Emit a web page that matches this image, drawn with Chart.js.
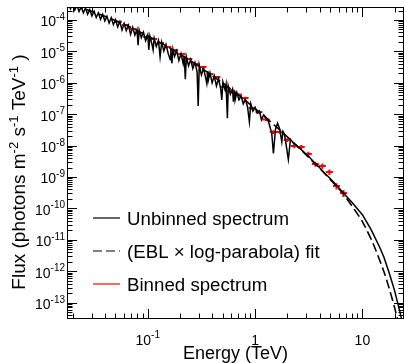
<!DOCTYPE html>
<html>
<head>
<meta charset="utf-8">
<script src="https://cdn.jsdelivr.net/npm/chart.js@4.4.0/dist/chart.umd.min.js"></script>
<style>
html, body { margin: 0; padding: 0; background: #fff; }
#wrap { width: 404px; height: 363px; }
</style>
</head>
<body>
<div id="wrap"><canvas id="spectrum" width="404" height="363"></canvas></div>
<script>
"use strict";

// binned spectrum: bin edges (TeV), flux per bin, relative error
const binEdges = [0.0495, 0.0575, 0.0670, 0.0778, 0.0906, 0.105, 0.122, 0.142, 0.166, 0.192,
    0.224, 0.260, 0.303, 0.352, 0.409, 0.475, 0.553, 0.643, 0.748, 0.869,
    1.01, 1.17, 1.37, 1.59, 1.85, 2.15, 2.50, 2.90, 3.38, 3.93,
    4.57, 5.31, 6.18, 7.18];
const binFlux = [8.83e-5, 6.93e-5, 5.16e-5, 3.85e-5, 2.88e-5, 2.48e-5, 1.85e-5, 1.38e-5, 1.11e-5, 8.26e-6,
    5.73e-6, 3.97e-6, 3.18e-6, 1.91e-6, 1.53e-6, 7.35e-7, 5.69e-7, 4.24e-7, 3.28e-7, 1.57e-7,
    1.17e-7, 6.78e-8, 2.71e-8, 2.71e-8, 1.51e-8, 9.70e-9, 9.02e-9, 5.40e-9, 2.59e-9, 2.24e-9,
    1.44e-9, 5.16e-10, 3.09e-10];
const binErr = [0.05, 0.05, 0.05, 0.05, 0.05, 0.06, 0.06, 0.06, 0.06, 0.06,
    0.07, 0.07, 0.07, 0.08, 0.08, 0.08, 0.09, 0.09, 0.10, 0.10,
    0.11, 0.12, 0.13, 0.13, 0.14, 0.15, 0.16, 0.17, 0.18, 0.19,
    0.20, 0.22, 0.25];

// unbinned spectrum, log10(E / TeV) and log10(flux)
const unbinnedLogE = [-1.78, -1.76, -1.74, -1.72, -1.70, -1.68, -1.66, -1.64, -1.62, -1.60,
    -1.58, -1.56, -1.54, -1.52, -1.50, -1.48, -1.46, -1.44, -1.42, -1.40,
    -1.38, -1.36, -1.34, -1.32, -1.30, -1.28, -1.26, -1.24, -1.22, -1.20,
    -1.18, -1.16, -1.14, -1.12, -1.10, -1.09, -1.08, -1.06, -1.04, -1.02,
    -1.00, -0.99, -0.98, -0.96, -0.95, -0.94, -0.92, -0.90, -0.885, -0.87,
    -0.85, -0.83, -0.81, -0.79, -0.785, -0.775, -0.765, -0.75, -0.73, -0.71,
    -0.69, -0.67, -0.66, -0.65, -0.64, -0.62, -0.60, -0.58, -0.56, -0.54,
    -0.53, -0.52, -0.50, -0.48, -0.46, -0.45, -0.44, -0.435, -0.42, -0.40,
    -0.38, -0.36, -0.34, -0.32, -0.31, -0.30, -0.28, -0.27, -0.258, -0.25,
    -0.23, -0.21, -0.202, -0.19, -0.186, -0.17, -0.15, -0.13, -0.11, -0.09,
    -0.07, -0.053, -0.04, -0.02, 0.00, 0.02, 0.04, 0.06, 0.08, 0.10,
    0.12, 0.13, 0.155, 0.171, 0.19, 0.21, 0.23, 0.249, 0.26, 0.275,
    0.31, 0.33, 0.36, 0.40, 0.45, 0.50, 0.55, 0.60, 0.65, 0.70,
    0.75, 0.80, 0.90, 1.00, 1.08, 1.16, 1.20, 1.25, 1.30, 1.35,
    1.40];
const unbinnedLogF = [-3.41, -3.60, -3.45, -3.64, -3.49, -3.68, -3.53, -3.73, -3.58, -3.77,
    -3.62, -3.82, -3.67, -3.87, -3.72, -3.92, -3.77, -3.98, -3.82, -4.03,
    -3.88, -4.10, -3.93, -4.15, -3.99, -4.22, -4.05, -4.32, -4.11, -4.34,
    -4.17, -4.46, -4.23, -4.48, -4.30, -4.80, -4.32, -4.56, -4.39, -4.66,
    -4.47, -4.95, -4.51, -4.78, -4.95, -4.58, -4.84, -4.65, -5.17, -4.71,
    -4.99, -4.78, -5.06, -5.27, -4.91, -5.38, -4.93, -5.16, -4.98, -5.29,
    -5.07, -5.39, -5.14, -5.89, -5.17, -5.46, -5.26, -5.55, -5.35, -5.65,
    -6.74, -5.44, -5.75, -5.54, -5.85, -6.02, -5.63, -5.91, -5.68, -6.00,
    -5.78, -6.10, -5.87, -6.20, -6.55, -5.97, -6.22, -6.05, -7.13, -6.10,
    -6.37, -6.20, -6.60, -6.25, -6.55, -6.31, -6.54, -6.42, -6.67, -6.53,
    -6.77, -7.24, -6.67, -6.90, -6.78, -6.97, -6.90, -7.18, -7.02, -7.10,
    -7.20, -7.30, -7.60, -8.25, -7.48, -7.29, -7.48, -7.88, -7.55, -7.65,
    -8.44, -7.80, -7.93, -8.04, -8.19, -8.35, -8.53, -8.70, -8.88, -9.05,
    -9.23, -9.42, -9.80, -10.20, -10.67, -11.23, -11.55, -12.06, -12.62, -13.30,
    -14.05];

// (EBL x log-parabola) fit, log10(E / TeV) and log10(flux)
const fitLogE = [-1.8, -1.7, -1.6, -1.5, -1.4, -1.3, -1.2, -1.1, -1.0, -0.9,
    -0.8, -0.7, -0.6, -0.5, -0.4, -0.3, -0.2, -0.1, 0.0, 0.1,
    0.2, 0.3, 0.4, 0.5, 0.6, 0.7, 0.8, 0.9, 1.0, 1.1,
    1.2, 1.25, 1.3, 1.35, 1.4];
const fitLogF = [-3.42, -3.52, -3.63, -3.75, -3.88, -4.02, -4.17, -4.33, -4.51, -4.69,
    -4.88, -5.09, -5.30, -5.53, -5.77, -6.01, -6.27, -6.54, -6.82, -7.11,
    -7.41, -7.72, -8.04, -8.38, -8.72, -9.08, -9.45, -9.91, -10.42, -11.12,
    -12.01, -12.55, -13.16, -13.85, -14.6];

// axes
const xRange = [0.01807, 23.9];
const yRange = [3.22e-14, 2.41e-4];
const xTickValues = [0.1, 1, 10];
const xTickBase = ["10", "1", "10"];
const xTickExp = ["-1", "", ""];
const yTickExp = [-4, -5, -6, -7, -8, -9, -10, -11, -12, -13];

const seriesLabels = ["Unbinned spectrum", "(EBL \u00d7 log-parabola) fit", "Binned spectrum"];

const FONT = '"Liberation Sans", Arial, Helvetica, sans-serif';

function logPoints(le, lf) {
    return le.map(function(v, i) { return { x: Math.pow(10, v), y: Math.pow(10, lf[i]) }; });
}

function binPoints() {
    let pts = [];
    binFlux.forEach(function(f, i) {
        let lo = binEdges[i], hi = binEdges[i + 1];
        let c = Math.sqrt(lo * hi);
        pts.push({ x: lo, y: f }, { x: hi, y: f }, { x: hi, y: null });
        pts.push({ x: c, y: f * (1 - binErr[i]) }, { x: c, y: f * (1 + binErr[i]) }, { x: c, y: null });
    });
    return pts;
}

// ticks inside the frame on all four sides, ROOT style
const frameTicks = {
    id: "frameTicks",
    afterDraw(chart) {
        const ctx = chart.ctx;
        const a = chart.chartArea;
        const xs = chart.scales.x, ys = chart.scales.y;
        ctx.save();
        ctx.strokeStyle = "#000";
        ctx.lineWidth = 1;
        ctx.strokeRect(a.left - 0.5, a.top - 0.5, a.right - a.left + 1, a.bottom - a.top + 1);
        ctx.beginPath();
        for (let d = -2; d <= 1; d++) {
            for (let m = 1; m <= 9; m++) {
                let v = m * Math.pow(10, d);
                if (v < xRange[0] || v > xRange[1]) continue;
                let px = Math.round(xs.getPixelForValue(v)) + 0.5;
                let len = m === 1 ? 9 : 4.5;
                ctx.moveTo(px, a.bottom); ctx.lineTo(px, a.bottom - len);
                ctx.moveTo(px, a.top); ctx.lineTo(px, a.top + len);
            }
        }
        for (let d = -14; d <= -3; d++) {
            for (let m = 1; m <= 9; m++) {
                let v = m * Math.pow(10, d);
                if (v < yRange[0] || v > yRange[1]) continue;
                let py = Math.round(ys.getPixelForValue(v)) + 0.5;
                let len = m === 1 ? 9 : 4.5;
                ctx.moveTo(a.left, py); ctx.lineTo(a.left + len, py);
                ctx.moveTo(a.right, py); ctx.lineTo(a.right - len, py);
            }
        }
        ctx.stroke();

        // tick labels
        ctx.fillStyle = "#000";
        ctx.textBaseline = "alphabetic";
        yTickExp.forEach(function(e) {
            let py = ys.getPixelForValue(Math.pow(10, e));
            ctx.font = "10px " + FONT;
            ctx.textAlign = "right";
            let sup = String(e);
            let sw = ctx.measureText(sup).width;
            ctx.fillText(sup, 65, py);
            ctx.font = "14px " + FONT;
            ctx.fillText("10", 65 - sw, py + 6.5);
        });
        xTickValues.forEach(function(v, i) {
            let px = xs.getPixelForValue(v);
            ctx.font = "14px " + FONT;
            let bw = ctx.measureText(xTickBase[i]).width;
            ctx.font = "10px " + FONT;
            let ew = xTickExp[i] ? ctx.measureText(xTickExp[i]).width : 0;
            let x0 = px - (bw + ew) / 2;
            ctx.textAlign = "left";
            ctx.font = "14px " + FONT;
            ctx.fillText(xTickBase[i], x0, 345);
            if (ew) {
                ctx.font = "10px " + FONT;
                ctx.fillText(xTickExp[i], x0 + bw, 338);
            }
        });

        // axis titles
        ctx.font = "18px " + FONT;
        ctx.textAlign = "center";
        ctx.fillText("Energy (TeV)", (a.left + a.right) / 2, 359);

        const parts = [["Flux (photons m", false], ["-2", true], [" s", false], ["-1", true],
            [" TeV", false], ["-1", true], [" )", false]];
        let total = 0;
        parts.forEach(function(p) {
            ctx.font = (p[1] ? "13px " : "19px ") + FONT;
            total += ctx.measureText(p[0]).width;
        });
        ctx.translate(25, 172);
        ctx.rotate(-Math.PI / 2);
        ctx.textAlign = "left";
        let x = -total / 2;
        parts.forEach(function(p) {
            ctx.font = (p[1] ? "13px " : "19px ") + FONT;
            ctx.fillText(p[0], x, p[1] ? -7.5 : 0);
            x += ctx.measureText(p[0]).width;
        });
        ctx.restore();
    }
};

const legendBox = {
    id: "legendBox",
    afterDraw(chart) {
        const ctx = chart.ctx;
        const rows = [218, 251, 284];
        ctx.save();
        chart.data.datasets.forEach(function(ds, i) {
            let y = rows[i];
            ctx.beginPath();
            ctx.strokeStyle = ds.borderColor;
            ctx.lineWidth = 1.2;
            ctx.setLineDash(ds.borderDash || []);
            ctx.moveTo(93, y);
            ctx.lineTo(120, y);
            ctx.stroke();
            ctx.setLineDash([]);
            ctx.fillStyle = "#000";
            ctx.font = "18.7px " + FONT;
            ctx.textAlign = "left";
            ctx.textBaseline = "alphabetic";
            ctx.fillText(ds.label, 127, y + 6.5);
        });
        ctx.restore();
    }
};

const chart = new Chart(document.getElementById("spectrum"), {
    type: "line",
    data: {
        datasets: [{
            label: seriesLabels[0],
            data: logPoints(unbinnedLogE, unbinnedLogF),
            borderColor: "#000",
            borderWidth: 1.5,
            pointRadius: 0,
            tension: 0
        }, {
            label: seriesLabels[1],
            data: logPoints(fitLogE, fitLogF),
            borderColor: "#000",
            borderWidth: 1.6,
            borderDash: [9, 4],
            pointRadius: 0,
            tension: 0.2
        }, {
            label: seriesLabels[2],
            data: binPoints(),
            borderColor: "#ff0000",
            borderWidth: 2,
            pointRadius: 0,
            spanGaps: false,
            tension: 0
        }]
    },
    options: {
        responsive: false,
        animation: false,
        layout: {
            padding: { left: 68, right: 1, top: 8, bottom: 45 }
        },
        plugins: {
            legend: { display: false },
            tooltip: { enabled: false }
        },
        scales: {
            x: {
                type: "logarithmic",
                display: false,
                min: xRange[0],
                max: xRange[1]
            },
            y: {
                type: "logarithmic",
                display: false,
                min: yRange[0],
                max: yRange[1]
            }
        }
    },
    plugins: [frameTicks, legendBox]
});
</script>
</body>
</html>
